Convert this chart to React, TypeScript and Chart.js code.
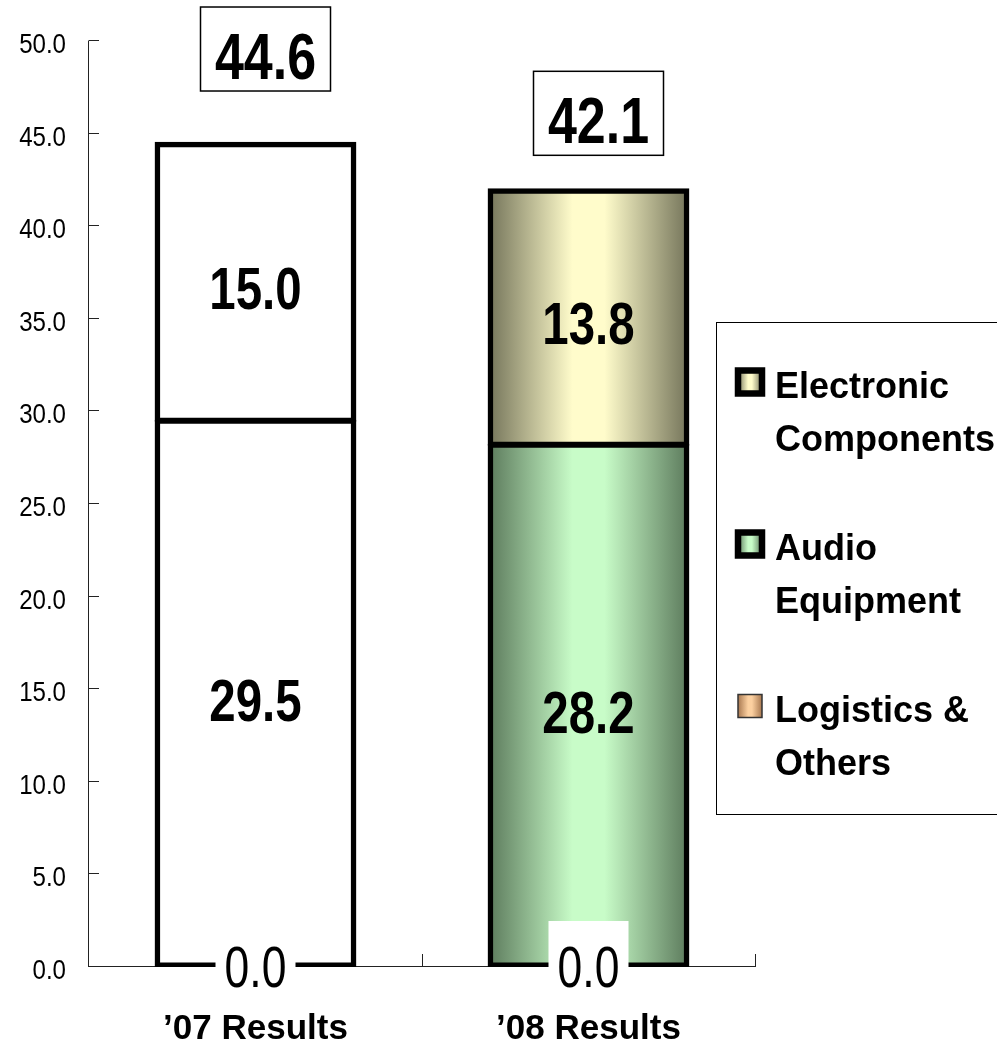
import { useEffect, useRef } from 'react';
import { Chart, registerables } from 'chart.js';

Chart.register(...registerables);

// ---- data ----
const categories = ['\u201907 Results', '\u201908 Results'];
const seriesNames = ['Electronic Components', 'Audio Equipment', 'Logistics & Others'];
const electronic = [15.0, 13.8];
const audio = [29.5, 28.2];
const logistics = [0.0, 0.0];
const totals = [44.6, 42.1];
const yTicks = [0, 5, 10, 15, 20, 25, 30, 35, 40, 45, 50];

// ---- styling ----
const FONT = '"Liberation Sans", Arial, sans-serif';
const W = 997;
const H = 1046;

type Shade = { edge: string; center: string };
const yellowShade: Shade = { edge: '#74745a', center: '#fffccb' };
const greenShade: Shade = { edge: '#5c7a5c', center: '#c8fcc8' };
const tanShade: Shade = { edge: '#a87850', center: '#fcd0a0' };

// offsets of the boxed totals above each bar top
const totalLift = [92, 74];

function shadeGradient(ctx: CanvasRenderingContext2D, left: number, right: number, s: Shade) {
  const g = ctx.createLinearGradient(left, 0, right, 0);
  g.addColorStop(0, s.edge);
  g.addColorStop(0.42, s.center);
  g.addColorStop(0.58, s.center);
  g.addColorStop(1, s.edge);
  return g;
}

// text squeezed horizontally to get a narrow face
function drawText(
  ctx: CanvasRenderingContext2D,
  text: string,
  x: number,
  y: number,
  font: string,
  align: CanvasTextAlign,
  squeeze = 1,
) {
  ctx.save();
  ctx.font = font;
  ctx.textAlign = align;
  ctx.textBaseline = 'alphabetic';
  ctx.fillStyle = '#000';
  ctx.translate(x, y);
  ctx.scale(squeeze, 1);
  ctx.fillText(text, 0, 0);
  ctx.restore();
}

const BAR_PCT = 0.6;

// first category is drawn plain white, the second with a horizontal sheen
function barFill(shade: Shade) {
  return (c: any) => {
    if (c.dataIndex === 0) return '#ffffff';
    const chart = c.chart;
    const xs = chart.scales?.x;
    const area = chart.chartArea;
    if (!xs || !area) return shade.center;
    const cx = xs.getPixelForValue(c.dataIndex);
    const half = ((area.right - area.left) / categories.length) * BAR_PCT / 2;
    return shadeGradient(chart.ctx, cx - half, cx + half, shade);
  };
}

const axesPlugin = {
  id: 'customAxes',
  beforeDatasetsDraw(chart: any) {
    const { ctx, chartArea: a, scales } = chart;
    const y = scales.y;
    const x = scales.x;
    ctx.save();
    ctx.strokeStyle = '#222';
    ctx.lineWidth = 1;
    ctx.beginPath();
    ctx.moveTo(a.left - 0.5, a.top);
    ctx.lineTo(a.left - 0.5, a.bottom);
    ctx.moveTo(a.left - 0.5, a.bottom - 0.5);
    ctx.lineTo(a.right + 1, a.bottom - 0.5);
    yTicks.forEach((v) => {
      const py = Math.round(y.getPixelForValue(v)) - 0.5;
      ctx.moveTo(a.left - 0.5, py);
      ctx.lineTo(a.left + 10, py);
    });
    for (let i = 0; i < categories.length; i++) {
      const bx = Math.round(x.getPixelForValue(i + 0.5)) + 0.5;
      ctx.moveTo(bx, a.bottom);
      ctx.lineTo(bx, a.bottom - 13);
    }
    ctx.stroke();
    ctx.restore();

    yTicks.forEach((v) => {
      const py = y.getPixelForValue(v);
      drawText(ctx, v.toFixed(1), 66, py + 12, `28px ${FONT}`, 'right', 0.86);
    });
  },
};

const labelsPlugin = {
  id: 'valueLabels',
  afterDatasetsDraw(chart: any) {
    const { ctx, scales } = chart;
    const y = scales.y;

    // segment values
    [1, 2].forEach((d) => {
      const meta = chart.getDatasetMeta(d);
      const values = chart.data.datasets[d].data as number[];
      meta.data.forEach((el: any, i: number) => {
        const cy = (el.y + el.base) / 2;
        drawText(ctx, values[i].toFixed(1), el.x, cy + 27, `bold 60px ${FONT}`, 'center', 0.79);
      });
    });

    // zero-height segment labels on a white patch at the baseline
    const lMeta = chart.getDatasetMeta(0);
    lMeta.data.forEach((el: any, i: number) => {
      const y0 = y.getPixelForValue(logistics[i]);
      ctx.save();
      ctx.fillStyle = '#ffffff';
      ctx.fillRect(el.x - 40, y0 - 46, 80, 90);
      ctx.restore();
      drawText(ctx, logistics[i].toFixed(1), el.x, y0 + 20, `57px ${FONT}`, 'center', 0.78);
    });

    // boxed totals
    const tMeta = chart.getDatasetMeta(2);
    tMeta.data.forEach((el: any, i: number) => {
      const cx = el.x + 10;
      const top = y.getPixelForValue(totals[i]) - totalLift[i] - 42;
      ctx.save();
      ctx.fillStyle = '#ffffff';
      ctx.fillRect(cx - 65, top, 130, 84);
      ctx.strokeStyle = '#000';
      ctx.lineWidth = 1.5;
      ctx.strokeRect(cx - 65, top, 130, 84);
      ctx.restore();
      drawText(ctx, totals[i].toFixed(1), cx, top + 71.5, `bold 65px ${FONT}`, 'center', 0.8);
    });
  },
  afterDraw(chart: any) {
    const { ctx, scales, chartArea: a } = chart;
    const x = scales.x;
    categories.forEach((c, i) => {
      drawText(ctx, c, x.getPixelForValue(i), a.bottom + 72, `bold 35px ${FONT}`, 'center', 1);
    });
  },
};

// legend: box partly cut by the right edge, wrapped names, shaded swatches
const legendPlugin = {
  id: 'sideLegend',
  afterDraw(chart: any) {
    const { ctx } = chart;
    ctx.save();
    ctx.strokeStyle = '#000';
    ctx.lineWidth = 1;
    ctx.strokeRect(716.5, 322.5, 400, 492);

    const shades = [yellowShade, greenShade, tanShade];
    const heavy = [true, true, false];
    seriesNames.forEach((name, i) => {
      const base = 398 + i * 162;
      const cut = name.lastIndexOf(' ');
      const lines = [name.slice(0, cut), name.slice(cut + 1)];
      // swatch
      const sx = 738;
      const sy = base - 16 - 11.5;
      ctx.fillStyle = shadeGradient(ctx, sx, sx + 24, shades[i]);
      ctx.fillRect(sx, sy, 24, 23);
      ctx.strokeStyle = heavy[i] ? '#000' : '#333';
      ctx.lineWidth = heavy[i] ? 6.5 : 1.5;
      ctx.strokeRect(sx, sy, 24, 23);
      // text
      lines.forEach((t, k) => drawText(ctx, t, 775, base + k * 53, `bold 36px ${FONT}`, 'left', 1));
    });
    ctx.restore();
  },
};

export default function App() {
  const ref = useRef<HTMLCanvasElement | null>(null);

  useEffect(() => {
    const canvas = ref.current;
    if (!canvas) return;
    const chart = new Chart(canvas, {
      type: 'bar',
      data: {
        labels: categories,
        datasets: [
          {
            label: seriesNames[2],
            data: logistics,
            backgroundColor: barFill(tanShade),
            borderWidth: 0,
          },
          {
            label: seriesNames[1],
            data: audio,
            backgroundColor: barFill(greenShade),
            borderColor: '#000',
            borderWidth: { top: 4, left: 5.5, right: 5.5, bottom: 5.5 },
            borderSkipped: false,
            inflateAmount: 1,
          },
          {
            label: seriesNames[0],
            data: electronic,
            backgroundColor: barFill(yellowShade),
            borderColor: '#000',
            borderWidth: { top: 5.5, left: 5.5, right: 5.5, bottom: 4 },
            borderSkipped: false,
            inflateAmount: 1,
          },
        ] as any,
      },
      options: {
        responsive: false,
        animation: false,
        devicePixelRatio: 1,
        layout: { padding: { left: 89, right: 242, top: 41, bottom: 79 } },
        datasets: { bar: { barPercentage: BAR_PCT, categoryPercentage: 1 } },
        scales: {
          x: { display: false, stacked: true },
          y: { display: false, stacked: true, min: 0, max: 50 },
        },
        plugins: {
          legend: { display: false },
          tooltip: { enabled: false },
        },
      } as any,
      plugins: [axesPlugin, labelsPlugin, legendPlugin],
    });
    return () => chart.destroy();
  }, []);

  return (
    <div style={{ position: 'absolute', left: 0, top: 0, width: W, height: H, background: '#fff' }}>
      <canvas ref={ref} width={W} height={H} style={{ display: 'block', width: W, height: H }} />
    </div>
  );
}
